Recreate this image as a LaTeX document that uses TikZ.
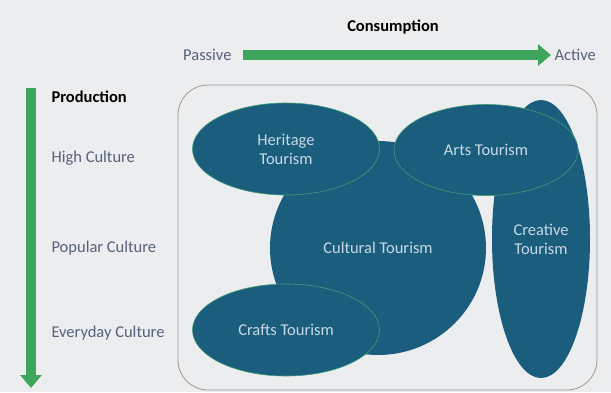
\documentclass[tikz,border=0pt]{standalone}
\usepackage{fontspec}
\setmainfont{Carlito}
\usepackage{xcolor}
\usetikzlibrary{shapes.geometric,arrows.meta}
\definecolor{bg}{HTML}{ECEDEE}
\definecolor{tour}{HTML}{1B5D7D}
\definecolor{tourtext}{HTML}{C6D9E4}
\definecolor{rim}{HTML}{3F9C78}
\definecolor{axis}{HTML}{3DA65B}
\definecolor{lbl}{HTML}{56627A}

\begin{document}
\begin{tikzpicture}[x=1pt, y=-1pt,
  every node/.style={font=\fontsize{16.5}{19}\selectfont},
  blob/.style={ellipse, fill=tour, text=tourtext, align=center, inner sep=0pt},
  rimmed/.style={blob, draw=rim, line width=0.6pt},
  axisarrow/.style={draw=axis, line width=10pt, -{Triangle[length=13pt, width=21pt]}},
  culture/.style={anchor=west, text=lbl}]
\fill[bg] (0,0) rectangle (611,392);
\useasboundingbox (0,0) rectangle (611,392);

\node (cons) at (393,27) {\textbf{Consumption}};
\node[text=lbl, anchor=east] (passive) at (235,55) {Passive};
\node[text=lbl, anchor=west] (active) at (551,55) {Active};
\draw[axisarrow] (passive.east) ++(8,0) coordinate (ps) -- (active.west);

\coordinate (ptop) at (31,88);
\coordinate (pbot) at (31,388);
\draw[axisarrow] (ptop) -- (pbot);
\node[anchor=west] (prod) at (48,97) {\textbf{Production}};
\node[culture] (high) at (48,158) {High Culture};
\node[culture] (popular) at (48,248) {Popular Culture};
\node[culture] (everyday) at (48,333) {Everyday Culture};

\draw[draw=gray!80, line width=0.8pt, rounded corners=30pt] (178,85) rectangle (597,390);

\node[blob, minimum width=98pt, minimum height=278pt] (creative) at (541,239) {Creative\\Tourism};
\node[blob, minimum width=216pt, minimum height=214pt] (cultural) at (378,248) {Cultural Tourism};
\node[rimmed, minimum width=187pt, minimum height=92pt] (heritage) at (286,149) {Heritage\\Tourism};
\node[rimmed, minimum width=184pt, minimum height=91pt] (arts) at (486,150) {Arts Tourism};
\node[rimmed, minimum width=187pt, minimum height=92pt] (crafts) at (286,330) {Crafts Tourism};
\end{tikzpicture}
\end{document}
